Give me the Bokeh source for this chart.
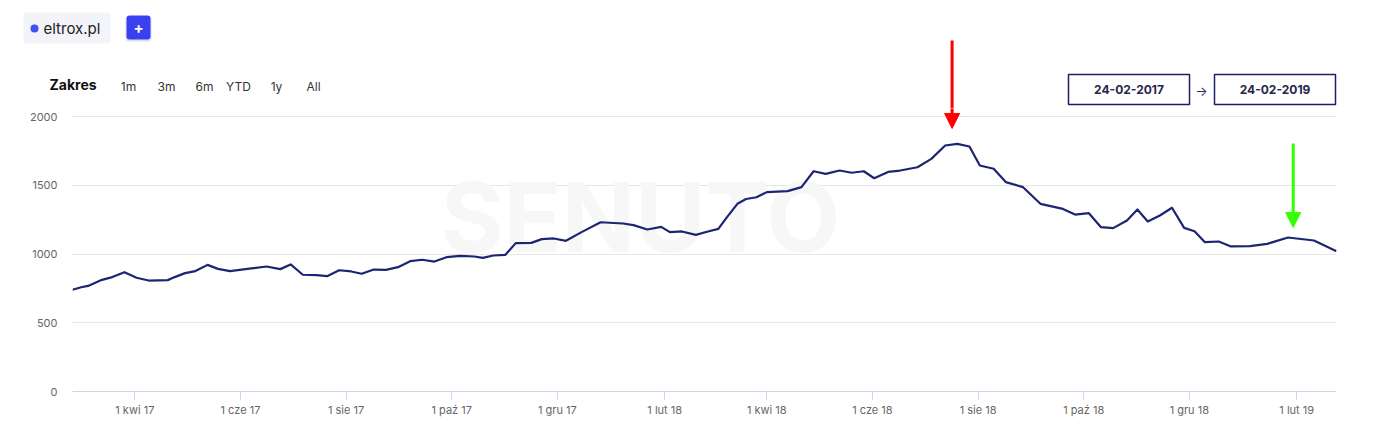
from bokeh.plotting import figure
from bokeh.layouts import column
from bokeh.models import (Range1d, FixedTicker, CustomJSTickFormatter, Label,
                          BoxAnnotation, Arrow, NormalHead, ColumnDataSource)
from bokeh.embed import file_html
from bokeh.resources import INLINE
import pandas as pd

FONT = "Inter"

# ---------------- data ----------------
dates = [
    "2017-02-24", "2017-03-01", "2017-03-05", "2017-03-13", "2017-03-19", "2017-03-26",
    "2017-04-02", "2017-04-09", "2017-04-20", "2017-04-24", "2017-04-30", "2017-05-06",
    "2017-05-13", "2017-05-19", "2017-05-26", "2017-06-05", "2017-06-16", "2017-06-24",
    "2017-06-30", "2017-07-07", "2017-07-15", "2017-07-21", "2017-07-28", "2017-08-04",
    "2017-08-10", "2017-08-17", "2017-08-24", "2017-08-31", "2017-09-07", "2017-09-14",
    "2017-09-21", "2017-09-28", "2017-10-06", "2017-10-14", "2017-10-19", "2017-10-25",
    "2017-11-01", "2017-11-07", "2017-11-16", "2017-11-22", "2017-11-29", "2017-12-06",
    "2017-12-15", "2017-12-26", "2018-01-08", "2018-01-14", "2018-01-22", "2018-01-30",
    "2018-02-04", "2018-02-11", "2018-02-19", "2018-02-26", "2018-03-04", "2018-03-09",
    "2018-03-15", "2018-03-20", "2018-03-26", "2018-04-01", "2018-04-13", "2018-04-21",
    "2018-04-28", "2018-05-05", "2018-05-13", "2018-05-20", "2018-05-27", "2018-06-02",
    "2018-06-10", "2018-06-17", "2018-06-27", "2018-07-05", "2018-07-13", "2018-07-20",
    "2018-07-27", "2018-08-02", "2018-08-10", "2018-08-17", "2018-08-27", "2018-09-06",
    "2018-09-19", "2018-09-26", "2018-10-04", "2018-10-11", "2018-10-18", "2018-10-26",
    "2018-11-01", "2018-11-07", "2018-11-14", "2018-11-21", "2018-11-28", "2018-12-04",
    "2018-12-10", "2018-12-18", "2018-12-25", "2019-01-05", "2019-01-15", "2019-01-27",
    "2019-02-11", "2019-02-24",
]
values = [
    740, 758, 768, 812, 832, 868,
    827, 807, 810, 832, 861, 876,
    921, 892, 876, 892, 909, 890,
    924, 849, 846, 839, 882, 873,
    856, 887, 885, 904, 948, 958,
    945, 977, 987, 982, 972, 989,
    994, 1079, 1081, 1108, 1113, 1096,
    1159, 1231, 1222, 1210, 1178, 1197,
    1159, 1164, 1139, 1164, 1183, 1268,
    1365, 1400, 1413, 1450, 1457, 1486,
    1602, 1583, 1607, 1591, 1602, 1551,
    1597, 1607, 1631, 1692, 1789, 1801,
    1782, 1644, 1620, 1523, 1486, 1365,
    1328, 1287, 1297, 1195, 1188, 1244,
    1324, 1236, 1280, 1336, 1190, 1166,
    1086, 1091, 1055, 1057, 1074, 1120,
    1098, 1020,
]

tick_dates = ["2017-04-01", "2017-06-01", "2017-08-01", "2017-10-01", "2017-12-01",
              "2018-02-01", "2018-04-01", "2018-06-01", "2018-08-01", "2018-10-01",
              "2018-12-01", "2019-02-01"]
tick_labels = ["1 kwi 17", "1 cze 17", "1 sie 17", "1 paź 17", "1 gru 17",
               "1 lut 18", "1 kwi 18", "1 cze 18", "1 sie 18", "1 paź 18",
               "1 gru 18", "1 lut 19"]
y_ticks = [0, 500, 1000, 1500, 2000]

range_start = "2017-02-24"
range_end = "2019-02-24"
date_from_label = "24-02-2017"
date_to_label = "24-02-2019"
domain = "eltrox.pl"
range_title = "Zakres"
range_buttons = ["1m", "3m", "6m", "YTD", "1y", "All"]
watermark = "SENUTO"

# annotation arrows: (date, value at tip)
red_arrow = ("2018-07-17", 1913)
green_arrow = ("2019-01-30", 1804, 1193)


def ms(d):
    return pd.Timestamp(d).value / 1e6


# ---------------- geometry ----------------
W = 1366
HEAD_H = 108          # header strip height (frame of chart starts right below)
FRAME_L, FRAME_R = 72, 1336
FRAME_W = FRAME_R - FRAME_L
CHART_H = 312
FRAME_H = 283         # chart frame height (2000 gridline sits 8px below its top)
Y_TOP = 2000 * FRAME_H / 275.0

t0, t1 = ms(range_start), ms(range_end)
mpp = (t1 - t0) / FRAME_W

# ---------------- header strip ----------------
h = figure(width=W, height=HEAD_H, x_range=Range1d(0, W), y_range=Range1d(0, HEAD_H),
           x_axis_location=None, y_axis_location=None,
           output_backend="svg", toolbar_location=None,
           min_border=0, min_border_left=0, min_border_right=0,
           min_border_top=0, min_border_bottom=0)
h.frame_align = False
h.extra_x_ranges = {"date": Range1d(t0 - FRAME_L * mpp, t1 + (W - FRAME_R) * mpp)}
h.outline_line_color = None
h.grid.visible = False
h.background_fill_color = "white"
h.border_fill_color = "white"


def hy(py):
    return HEAD_H - py


def hlabel(px, py, text, size, color, bold=False, align="left"):
    h.add_layout(Label(x=px, y=hy(py), text=text, text_font=FONT,
                       text_font_size=f"{size}px", text_color=color,
                       text_font_style="bold" if bold else "normal",
                       text_align=align, text_baseline="middle"))


def hbox(x0, y0, x1, y1, fill, line=None, lw=1.0, radius=0):
    h.add_layout(BoxAnnotation(left=x0, right=x1, top=hy(y0), bottom=hy(y1),
                               fill_color=fill, fill_alpha=1.0,
                               line_color=line, line_alpha=1.0, line_width=lw,
                               border_radius=radius))


# domain pill and plus button
hbox(23, 12, 110, 43, "#f3f4f9", radius=4)
hbox(30, 24, 38, 32, "#3d4ff5", radius=4)
hlabel(43, 28, domain, 15, "#222222")
hbox(125, 16, 151, 41, "#dcdef2", radius=4)
hbox(126, 15, 150, 39, "#3a40f0", radius=3)
hlabel(138, 27, "+", 15, "#ffffff", bold=True, align="center")

# range selector
hlabel(49, 84, range_title, 14, "#111111", bold=True)
for cx, t in zip([128, 166, 204, 238, 276, 313], range_buttons):
    hlabel(cx, 86, t, 12, "#333333", align="center")

# date inputs
hbox(1068, 74, 1189, 104, "#ffffff", line="#1b1f66", lw=1.5)
hbox(1214, 74, 1335, 104, "#ffffff", line="#1b1f66", lw=1.5)
hlabel(1128.5, 89, date_from_label, 12, "#26264a", bold=True, align="center")
hlabel(1274.5, 89, date_to_label, 12, "#26264a", bold=True, align="center")
hlabel(1201, 90, "→", 13, "#333355", align="center")

# upper part of the red arrow
h.segment(x0=[ms(red_arrow[0])], y0=[hy(40)], x1=[ms(red_arrow[0])], y1=[-1],
          x_range_name="date", line_color="#ff0000", line_width=3, line_cap="butt")

# ---------------- chart ----------------
p = figure(width=W, height=CHART_H, x_axis_type="datetime",
           x_range=Range1d(t0, t1), y_range=Range1d(0, Y_TOP),
           output_backend="svg", toolbar_location=None,
           min_border_left=FRAME_L, min_border_right=W - FRAME_R,
           min_border_top=0, min_border_bottom=CHART_H - FRAME_H)
p.frame_align = False
p.outline_line_color = None
p.background_fill_color = "white"
p.border_fill_color = "white"
p.xgrid.visible = False
p.ygrid.grid_line_color = "#e6e6e6"
p.ygrid.grid_line_width = 1

tick_ms = [ms(d) for d in tick_dates]
xa = p.xaxis[0]
xa.ticker = FixedTicker(ticks=tick_ms, minor_ticks=[])
xa.formatter = CustomJSTickFormatter(
    args=dict(tick_vals=tick_ms, tick_names=tick_labels),
    code="const i = tick_vals.indexOf(tick); return i >= 0 ? tick_names[i] : '';")
xa.axis_line_color = "#ccd6eb"
xa.major_tick_line_color = "#ccd6eb"
xa.major_tick_out = 8
xa.major_tick_in = 0
xa.minor_tick_line_color = None
xa.major_label_standoff = 3
xa.major_label_text_font = FONT
xa.major_label_text_font_size = "11px"
xa.major_label_text_color = "#666666"

ya = p.yaxis[0]
ya.ticker = FixedTicker(ticks=y_ticks, minor_ticks=[])
ya.axis_line_color = None
ya.major_tick_line_color = None
ya.minor_tick_line_color = None
ya.major_tick_out = 0
ya.major_tick_in = 0
ya.major_label_standoff = 15
ya.major_label_text_font = FONT
ya.major_label_text_font_size = "11px"
ya.major_label_text_color = "#666666"

# watermark
p.add_layout(Label(x=640 - FRAME_L, y=FRAME_H - (216 - HEAD_H),
                   x_units="screen", y_units="screen", text=watermark, text_font=FONT,
                   text_font_size="96px", text_color="#f7f7f7", text_font_style="bold",
                   text_align="center", text_baseline="middle", level="underlay"))

# the series
src = ColumnDataSource(dict(x=pd.to_datetime(dates), y=values))
p.line("x", "y", source=src, line_color="#1d2573", line_width=2.2, line_join="round")

# arrows
p.add_layout(Arrow(x_start=ms(red_arrow[0]), y_start=Y_TOP * 1.2,
                   x_end=ms(red_arrow[0]), y_end=red_arrow[1],
                   line_color="#ff0000", line_width=3,
                   end=NormalHead(size=15, fill_color="#ff0000", line_color="#ff0000", line_width=1)))
p.add_layout(Arrow(x_start=ms(green_arrow[0]), y_start=green_arrow[1],
                   x_end=ms(green_arrow[0]), y_end=green_arrow[2],
                   line_color="#33ff00", line_width=3,
                   end=NormalHead(size=15, fill_color="#33ff00", line_color="#33ff00", line_width=1)))

layout = column(h, p, spacing=0)
open("out.html", "w").write(file_html(layout, INLINE))
